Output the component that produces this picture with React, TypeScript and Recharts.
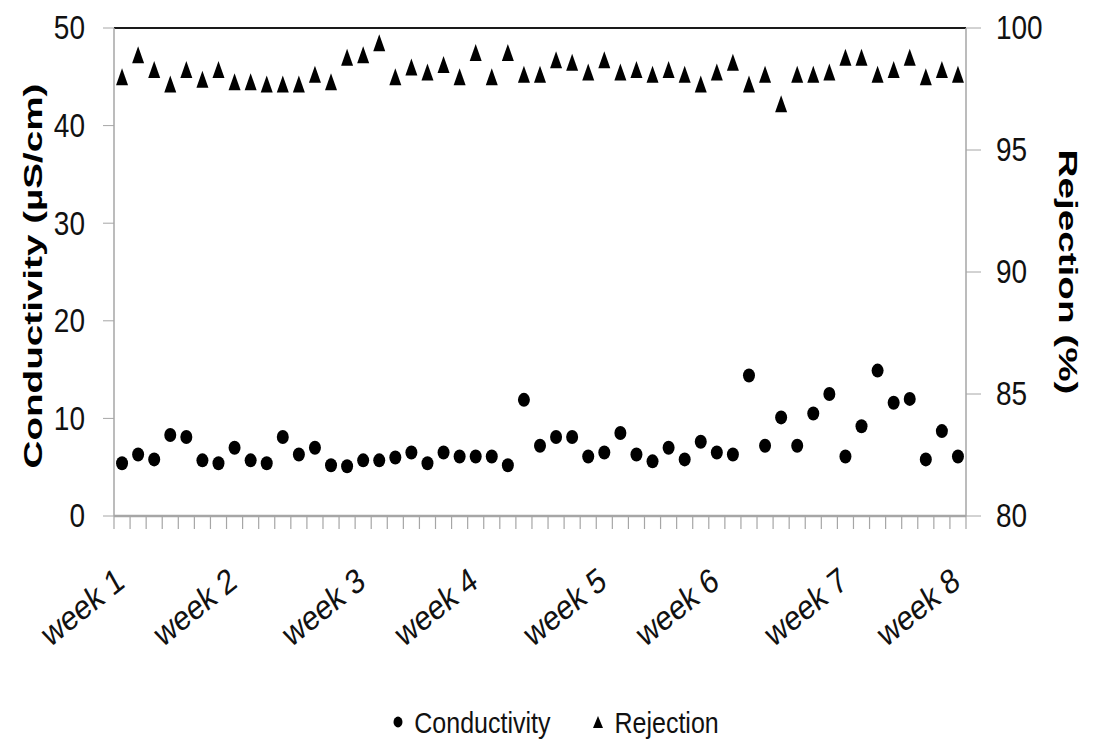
import { Legend, ReferenceLine, Scatter, ScatterChart, XAxis, YAxis } from "recharts";

// conductivity (µS/cm), one value per sample
const conductivity = [
  5.4, 6.3, 5.8, 8.3, 8.1, 5.7, 5.4, 7.0, 5.7, 5.4, 8.1, 6.3, 7.0, 5.2, 5.1, 5.7, 5.7, 6.0,
  6.5, 5.4, 6.5, 6.1, 6.1, 6.1, 5.2, 11.9, 7.2, 8.1, 8.1, 6.1, 6.5, 8.5, 6.3, 5.6, 7.0, 5.8,
  7.6, 6.5, 6.3, 14.4, 7.2, 10.1, 7.2, 10.5, 12.5, 6.1, 9.2, 14.9, 11.6, 12.0, 5.8, 8.7, 6.1,
];

// salt rejection (%), same samples
const rejection = [
  98.0, 98.9, 98.3, 97.7, 98.3, 97.9, 98.3, 97.8, 97.8, 97.7, 97.7, 97.7, 98.1, 97.8, 98.8, 98.9, 99.4, 98.0,
  98.4, 98.2, 98.5, 98.0, 99.0, 98.0, 99.0, 98.1, 98.1, 98.7, 98.6, 98.2, 98.7, 98.2, 98.3, 98.1, 98.3, 98.1,
  97.7, 98.2, 98.6, 97.7, 98.1, 96.9, 98.1, 98.1, 98.2, 98.8, 98.8, 98.1, 98.3, 98.8, 98.0, 98.3, 98.1,
];

const weekLabels = ["week 1", "week 2", "week 3", "week 4", "week 5", "week 6", "week 7", "week 8"];
const weekSample = [0, 7, 15, 22, 30, 37, 45, 52];

const leftTicks = [0, 10, 20, 30, 40, 50];
const rightTicks = [80, 85, 90, 95, 100];

const sampleCount = conductivity.length;
const conductivityData = conductivity.map((v, i) => ({ sample: i + 0.5, conductivity: v }));
const rejectionData = rejection.map((v, i) => ({ sample: i + 0.5, rejection: v }));

// tick marks sit between samples, week labels sit on the sample
const boundaryTicks = Array.from({ length: sampleCount + 1 }, (_, i) => i);
const xTicks = [...boundaryTicks, ...weekSample.map((i) => i + 0.5)].sort((a, b) => a - b);

const FONT = "'Liberation Sans', Arial, sans-serif";
const AXIS_GREY = "#a6a6a6";
// the original picture is a little taller than wide, so text is stretched vertically
const STRETCH = 1.2;

function SampleTick(props: any) {
  const { x, y, payload } = props;
  const v = payload.value;
  if (Number.isInteger(v)) {
    return <line x1={x} x2={x} y1={y} y2={y + 13} stroke={AXIS_GREY} strokeWidth={1.2} />;
  }
  const idx = weekSample.indexOf(v - 0.5);
  return (
    <text
      transform={`translate(${x + 4},${y + 70}) scale(1,${STRETCH}) rotate(-34)`}
      textAnchor="end"
      fontFamily={FONT}
      fontSize={29}
      fill="#111"
    >
      {weekLabels[idx]}
    </text>
  );
}

function ValueTick(props: any) {
  const { x, y, payload, textAnchor } = props;
  return (
    <text
      transform={`translate(${x},${y}) scale(1,${STRETCH})`}
      textAnchor={textAnchor}
      dominantBaseline="central"
      fontFamily={FONT}
      fontSize={28}
      fill="#111"
    >
      {payload.value}
    </text>
  );
}

function Dot(props: any) {
  return <ellipse cx={props.cx} cy={props.cy} rx={6} ry={7} fill="#000" />;
}

function Tri(props: any) {
  const { cx, cy } = props;
  return <polygon points={`${cx},${cy - 8.5} ${cx - 6},${cy + 8.5} ${cx + 6},${cy + 8.5}`} fill="#000" />;
}

function LeftTitle(props: any) {
  const vb = props.viewBox;
  const cy = vb.y + vb.height / 2 + 4;
  return (
    <text
      transform={`translate(33,${cy}) rotate(-90)`}
      textAnchor="middle"
      dominantBaseline="central"
      fontFamily={FONT}
      fontWeight="bold"
      fontSize={26}
      textLength={385}
      lengthAdjust="spacingAndGlyphs"
      fill="#000"
    >
      Conductivity (µS/cm)
    </text>
  );
}

function RightTitle(props: any) {
  const vb = props.viewBox;
  const cy = vb.y + vb.height / 2;
  return (
    <text
      transform={`translate(${vb.x + 102},${cy}) rotate(90)`}
      textAnchor="middle"
      dominantBaseline="central"
      fontFamily={FONT}
      fontWeight="bold"
      fontSize={26}
      textLength={245}
      lengthAdjust="spacingAndGlyphs"
      fill="#000"
    >
      Rejection (%)
    </text>
  );
}

function LegendBox() {
  return (
    <div
      style={{
        display: "flex",
        justifyContent: "center",
        alignItems: "center",
        gap: 10,
        height: 40,
        fontFamily: FONT,
        fontSize: 25,
        color: "#111",
        paddingLeft: 18,
        transform: `scaleY(${STRETCH})`,
      }}
    >
      <svg width={12} height={12}>
        <ellipse cx={6} cy={6} rx={4.5} ry={4.5} fill="#000" />
      </svg>
      <span style={{ marginRight: 32 }}>Conductivity</span>
      <svg width={12} height={12}>
        <polygon points="6,1 1,11 11,11" fill="#000" />
      </svg>
      <span>Rejection</span>
    </div>
  );
}

export default function App() {
  return (
    <div style={{ position: "absolute", left: 0, top: 0, width: 1093, height: 744, background: "#fff" }}>
      <ScatterChart width={1093} height={744} margin={{ top: 28, right: 0, bottom: 2, left: 0 }}>
        <XAxis
          dataKey="sample"
          type="number"
          domain={[0, sampleCount]}
          ticks={xTicks}
          interval={0}
          height={186}
          tickLine={false}
          tickSize={0}
          tickMargin={0}
          axisLine={{ stroke: AXIS_GREY, strokeWidth: 2.5 }}
          tick={<SampleTick />}
        />
        <YAxis
          yAxisId="left"
          dataKey="conductivity"
          domain={[0, 50]}
          ticks={leftTicks}
          interval={0}
          width={114}
          tickSize={11}
          tickMargin={18}
          tickLine={{ stroke: AXIS_GREY }}
          axisLine={{ stroke: AXIS_GREY, strokeWidth: 1.5 }}
          tick={<ValueTick />}
          label={<LeftTitle />}
        />
        <YAxis
          yAxisId="right"
          orientation="right"
          dataKey="rejection"
          domain={[80, 100]}
          ticks={rightTicks}
          interval={0}
          width={127}
          tickSize={15}
          tickMargin={15}
          tickLine={{ stroke: AXIS_GREY }}
          axisLine={{ stroke: AXIS_GREY, strokeWidth: 1.5 }}
          tick={<ValueTick />}
          label={<RightTitle />}
        />
        <ReferenceLine yAxisId="left" y={50} stroke="#1a1a1a" strokeWidth={2} />
        <Scatter
          name="Conductivity"
          yAxisId="left"
          data={conductivityData}
          fill="#000"
          shape={<Dot />}
          isAnimationActive={false}
        />
        <Scatter
          name="Rejection"
          yAxisId="right"
          data={rejectionData}
          fill="#000"
          shape={<Tri />}
          isAnimationActive={false}
        />
        <Legend verticalAlign="bottom" height={40} wrapperStyle={{ height: 40 }} content={<LegendBox />} />
      </ScatterChart>
    </div>
  );
}
